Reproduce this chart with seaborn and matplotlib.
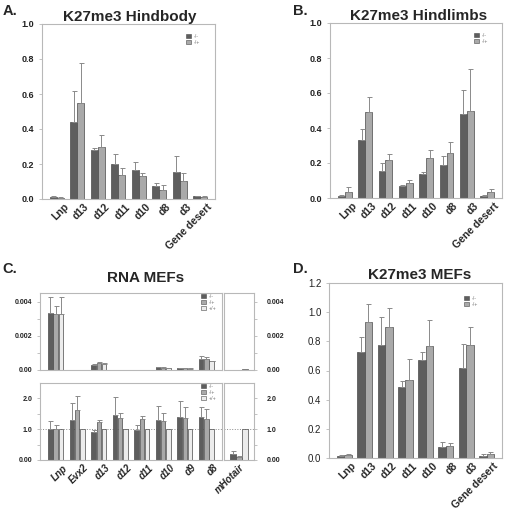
import numpy as np
import pandas as pd
import matplotlib
matplotlib.use("Agg")
import matplotlib.pyplot as plt
import matplotlib.transforms as mtransforms
from matplotlib.patches import Patch
import seaborn as sns

# ---------------- data ----------------
loci = ["Lnp", "d13", "d12", "d11", "d10", "d8", "d3", "Gene desert"]
geno2 = ["-/-", "-/+"]
geno3 = ["-/-", "-/+", "+/+"]

hindbody_ko = [0.012, 0.44, 0.28, 0.20, 0.165, 0.075, 0.155, 0.015]
hindbody_het = [0.008, 0.55, 0.30, 0.14, 0.13, 0.05, 0.105, 0.013]
hindbody_ko_top = [0.018, 0.615, 0.29, 0.255, 0.21, 0.09, 0.245, 0.018]
hindbody_het_top = [0.010, 0.775, 0.365, 0.18, 0.15, 0.08, 0.15, 0.015]

hindlimb_ko = [0.012, 0.33, 0.155, 0.07, 0.135, 0.19, 0.48, 0.012]
hindlimb_het = [0.037, 0.49, 0.22, 0.085, 0.23, 0.26, 0.50, 0.035]
hindlimb_ko_top = [0.017, 0.395, 0.20, 0.075, 0.15, 0.24, 0.62, 0.018]
hindlimb_het_top = [0.063, 0.58, 0.25, 0.105, 0.275, 0.32, 0.74, 0.05]

mef_ko = [0.015, 0.725, 0.775, 0.485, 0.67, 0.075, 0.615, 0.015]
mef_het = [0.02, 0.935, 0.895, 0.535, 0.77, 0.08, 0.775, 0.025]
mef_ko_top = [0.02, 0.83, 0.965, 0.53, 0.73, 0.11, 0.785, 0.025]
mef_het_top = [0.025, 1.055, 1.03, 0.68, 0.945, 0.10, 0.90, 0.04]

rna_genes = ["Lnp", "Evx2", "d13", "d12", "d11", "d10", "d9", "d8", "mHotair"]
# absolute expression (upper part of C)
rna_abs_ko = [0.00335, 0.00001, 0.00032, 0.00002, 0.00001, 0.00015, 0.00012, 0.00065, 0.00001]
rna_abs_het = [0.0033, 0.00001, 0.00043, 0.00002, 0.00001, 0.00013, 0.00011, 0.00063, 0.00001]
rna_abs_wt = [0.0033, 0.00001, 0.00036, 0.00002, 0.00001, 0.00010, 0.00008, 0.00050, 0.00004]
rna_abs_ko_top = [0.00425, 0.00001, 0.00035, 0.00002, 0.00001, 0.00017, 0.00013, 0.00080, 0.00001]
rna_abs_het_top = [0.00375, 0.00001, 0.00046, 0.00002, 0.00001, 0.00015, 0.00012, 0.00075, 0.00001]
rna_abs_wt_top = [0.00425, 0.00001, 0.00038, 0.00002, 0.00001, 0.00011, 0.00009, 0.00052, 0.00004]
# relative expression (lower part of C)
rna_rel_ko = [1.02, 1.30, 0.90, 1.45, 0.97, 1.30, 1.41, 1.38, 0.19]
rna_rel_het = [1.00, 1.62, 1.24, 1.37, 1.33, 1.26, 1.37, 1.32, 0.10]
rna_rel_wt = [1.0, 1.0, 1.0, 1.0, 1.0, 1.0, 1.0, 1.0, 1.0]
rna_rel_ko_top = [1.28, 1.86, 0.99, 2.03, 1.14, 1.76, 1.93, 1.73, 0.28]
rna_rel_het_top = [1.13, 2.08, 1.31, 1.52, 1.44, 1.54, 1.71, 1.65, 0.12]
rna_rel_wt_top = [1.0, 1.0, 1.0, 1.0, 1.0, 1.0, 1.0, 1.0, 1.0]

# ---------------- style ----------------
sns.set_theme(style="ticks")
plt.rcParams['font.family'] = ['Liberation Sans', 'DejaVu Sans']

DARK, LIGHT, WHITE = "#5e5e5e", "#a9a9a9", "#ececec"
EDGE, ERR, SPINE = "#4a4a4a", "#8a8a8a", "#b8b8b8"

W, H = 506, 515
fig = plt.figure(figsize=(W / 100, H / 100), dpi=100)


def rect(l, r, t, b):
    return [l / W, 1 - b / H, (r - l) / W, (b - t) / H]


def bars(ax, cats, series, tops, labels, colors, width, gap=0.0):
    rows = []
    for lab, vals in zip(labels, series):
        for c, v in zip(cats, vals):
            rows.append({"locus": c, "genotype": lab, "value": v})
    df = pd.DataFrame(rows)
    sns.barplot(data=df, x="locus", y="value", hue="genotype", order=cats,
                hue_order=labels, palette=dict(zip(labels, colors)),
                errorbar=None, width=width, gap=gap, saturation=1,
                edgecolor=EDGE, linewidth=0.5, legend=False, ax=ax)
    for cont, vals, top in zip(ax.containers, series, tops):
        xs, ys, es = [], [], []
        for p, v, t in zip(cont.patches, vals, top):
            if t - v > 0:
                xs.append(p.get_x() + p.get_width() / 2)
                ys.append(v)
                es.append(t - v)
        if xs:
            ax.errorbar(xs, ys, yerr=[np.zeros(len(es)), es], fmt='none',
                        ecolor=ERR, elinewidth=0.7, capsize=1.8, capthick=0.7)


def frame(ax):
    for s in ax.spines.values():
        s.set_visible(True)
        s.set_color(SPINE)
        s.set_linewidth(0.8)
    ax.set_xlabel("")
    ax.set_ylabel("")


def xlabels(ax, cats, size=7.5, italic=False, dx=10):
    ax.tick_params(axis='x', length=0, pad=4.5)
    ax.set_xticks(range(len(cats)))
    ax.set_xticklabels(cats, rotation=45, ha='right', va='center',
                       rotation_mode='anchor', fontsize=size, fontweight='bold',
                       style='italic' if italic else 'normal')
    off = mtransforms.ScaledTranslation(dx / 100, 0, fig.dpi_scale_trans)
    for lbl in ax.get_xticklabels():
        lbl.set_transform(lbl.get_transform() + off)


def yaxis(ax, ticks, labels, ylim, size=6.5, weight='bold', minor=None, side='left', pad=3.5):
    ax.set_ylim(*ylim)
    ax.set_yticks(ticks)
    ax.set_yticklabels(labels, fontsize=size, fontweight=weight)
    if minor is not None:
        ax.set_yticks(minor, minor=True)
    if side == 'right':
        ax.yaxis.tick_right()
    ax.tick_params(axis='y', which='both', length=2, width=0.6, color=SPINE,
                   pad=pad, labelcolor="#222222")


def legend(ax, labels, colors, x, y):
    handles = [Patch(facecolor=c, edgecolor=EDGE, linewidth=0.4) for c in colors]
    leg = ax.legend(handles, labels, loc='upper left',
                    bbox_to_anchor=(x / W, 1 - y / H), bbox_transform=fig.transFigure,
                    fontsize=3.8, frameon=False, handlelength=0.9, handleheight=0.9,
                    handletextpad=0.5, labelspacing=0.15, borderpad=0, borderaxespad=0)
    for t in leg.get_texts():
        t.set_color("#777777")


def ftext(x, y, s, size, **kw):
    fig.text(x / W, 1 - y / H, s, fontsize=size, fontweight='bold', va='baseline', **kw)


k_ticks = [0.0, 0.2, 0.4, 0.6, 0.8, 1.0]
k_labels = ["0.0", "0.2", "0.4", "0.6", "0.8", "1.0"]

# ---------------- A ----------------
axA = fig.add_axes(rect(42, 215, 24, 199))
bars(axA, loci, [hindbody_ko, hindbody_het], [hindbody_ko_top, hindbody_het_top],
     geno2, [DARK, LIGHT], 0.68)
frame(axA)
yaxis(axA, k_ticks, k_labels, (0, 1.0))
xlabels(axA, loci)
legend(axA, geno2, [DARK, LIGHT], 186, 34)
ftext(3, 15, "A.", 10.5)
ftext(130, 21, "K27me3 Hindbody", 11, ha='center')

# ---------------- B ----------------
axB = fig.add_axes(rect(330, 502, 23, 198))
bars(axB, loci, [hindlimb_ko, hindlimb_het], [hindlimb_ko_top, hindlimb_het_top],
     geno2, [DARK, LIGHT], 0.68)
frame(axB)
yaxis(axB, k_ticks, k_labels, (0, 1.0))
xlabels(axB, loci)
legend(axB, geno2, [DARK, LIGHT], 474, 33)
ftext(293, 15, "B.", 10.5)
ftext(419, 20, "K27me3 Hindlimbs", 11, ha='center')

# ---------------- C ----------------
main = rna_genes[:-1]
extra = rna_genes[-1:]
abs_series = [rna_abs_ko, rna_abs_het, rna_abs_wt]
abs_tops = [rna_abs_ko_top, rna_abs_het_top, rna_abs_wt_top]
rel_series = [rna_rel_ko, rna_rel_het, rna_rel_wt]
rel_tops = [rna_rel_ko_top, rna_rel_het_top, rna_rel_wt_top]
cols3 = [DARK, LIGHT, WHITE]

abs_ticks = [0.0, 0.002, 0.004]
abs_labels = ["0.00", "0.002", "0.004"]
rel_ticks = [0.0, 1.0, 2.0]
rel_labels = ["0.00", "1.0", "2.0"]

axC1 = fig.add_axes(rect(40, 222, 293, 370))
bars(axC1, main, [s[:-1] for s in abs_series], [t[:-1] for t in abs_tops], geno3, cols3, 0.72, 0.15)
frame(axC1)
yaxis(axC1, abs_ticks, abs_labels, (0, 0.0045), size=5, minor=[0.001, 0.003])
axC1.set_xticks([])
legend(axC1, geno3, cols3, 201, 294)

axC2 = fig.add_axes(rect(224, 254, 293, 370))
bars(axC2, extra, [s[-1:] for s in abs_series], [t[-1:] for t in abs_tops], geno3, cols3, 0.6, 0.15)
frame(axC2)
yaxis(axC2, abs_ticks, abs_labels, (0, 0.0045), size=5, minor=[0.001, 0.003], side='right', pad=7)
axC2.set_xticks([])

axC3 = fig.add_axes(rect(40, 222, 383, 460))
bars(axC3, main, [s[:-1] for s in rel_series], [t[:-1] for t in rel_tops], geno3, cols3, 0.72, 0.15)
frame(axC3)
yaxis(axC3, rel_ticks, rel_labels, (0, 2.5), size=5, minor=[0.5, 1.5])
axC3.axhline(1.0, ls=':', color="#888888", lw=0.7, zorder=0)
xlabels(axC3, main, size=7, italic=True)
legend(axC3, geno3, cols3, 201, 384)

axC4 = fig.add_axes(rect(224, 254, 383, 460))
bars(axC4, extra, [s[-1:] for s in rel_series], [t[-1:] for t in rel_tops], geno3, cols3, 0.6, 0.15)
frame(axC4)
yaxis(axC4, rel_ticks, rel_labels, (0, 2.5), size=5, minor=[0.5, 1.5], side='right', pad=7)
axC4.axhline(1.0, ls=':', color="#888888", lw=0.7, zorder=0)
axC4.set_xlim(-0.5, 0.5)
xlabels(axC4, extra, size=7, italic=True, dx=4)

ftext(2, 273, "C.", 10.5)
ftext(146, 282, "RNA MEFs", 11, ha='center')

# ---------------- D ----------------
axD = fig.add_axes(rect(329, 502, 283, 458))
bars(axD, loci, [mef_ko, mef_het], [mef_ko_top, mef_het_top], geno2, [DARK, LIGHT], 0.74)
frame(axD)
yaxis(axD, [0.0, 0.2, 0.4, 0.6, 0.8, 1.0, 1.2],
      ["0.0", "0.2", "0.4", "0.6", "0.8", "1.0", "1.2"], (0, 1.2), size=7, weight='normal')
xlabels(axD, loci)
legend(axD, geno2, [DARK, LIGHT], 464, 296)
ftext(293, 273, "D.", 10.5)
ftext(420, 279, "K27me3 MEFs", 11, ha='center')

fig.savefig("out.png", dpi=100)
